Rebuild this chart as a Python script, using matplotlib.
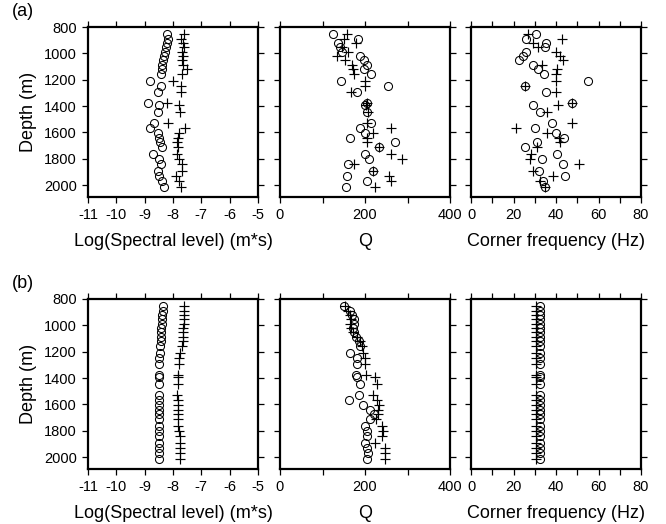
import matplotlib
matplotlib.use("Agg")
import matplotlib.pyplot as plt
from matplotlib.ticker import MultipleLocator

plt.rcParams["font.family"] = ["Liberation Sans", "DejaVu Sans"]
plt.rcParams["axes.unicode_minus"] = False

# depths of the stations (m), shared by every panel
depth = [855, 890, 925, 955, 986, 1019, 1052, 1088, 1121, 1159, 1213, 1248, 1294,
         1373, 1393, 1444, 1525, 1568, 1604, 1642, 1673, 1714, 1764, 1800, 1841,
         1889, 1928, 1968, 2016]

# (a) observed values: circles / pluses
spec_a_o = [-8.20, -8.19, -8.22, -8.25, -8.28, -8.31, -8.34, -8.38, -8.40, -8.43,
            -8.81, -8.43, -8.52, -8.87, -8.48, -8.52, -8.66, -8.81, -8.52, -8.49,
            -8.46, -8.40, -8.71, -8.48, -8.44, -8.52, -8.48, -8.40, -8.32]
spec_a_p = [-7.60, -7.70, -7.66, -7.62, -7.68, -7.64, -7.68, -7.66, -7.50, -7.68,
            -8.01, -7.70, -7.73, -8.22, -7.80, -7.75, -8.18, -7.58, -7.78, -7.81,
            -7.85, -7.84, -7.85, -7.78, -7.69, -7.67, -7.90, -7.80, -7.72]
q_a_o = [125, 184, 136, 140, 146, 189, 197, 204, 197, 213, 144, 254, 181,
         205, 201, 204, 213, 189, 200, 164, 270, 234, 200, 209, 159, 219, 158, 205, 155]
q_a_p = [158, 150, 178, 146, 160, 134, 154, 170, 172, 174, 201, 200, 167,
         205, 203, 206, 205, 260, 218, 205, 205, 234, 262, 286, 175, 219, 256, 260, 223]
fc_a_o = [30.7, 26.0, 35.4, 35.0, 26.0, 24.5, 22.5, 29.0, 31.5, 34.3, 55.2, 25.6, 35.2,
          47.4, 29.4, 32.5, 38.3, 30.2, 39.8, 43.8, 31.1, 25.5, 40.5, 33.4, 43.3,
          31.8, 44.4, 33.7, 34.6]
fc_a_p = [26.8, 42.9, 29.1, 31.5, 39.8, 42.0, 43.2, 33.5, 40.4, 40.0, 39.8, 25.6, 39.8,
          47.4, 40.9, 35.9, 47.6, 21.1, 35.7, 41.3, 42.1, 31.2, 28.4, 27.6, 50.7,
          29.2, 38.8, 32.3, 34.6]

# (b) values
spec_b_o = [-8.36, -8.37, -8.38, -8.39, -8.40, -8.41, -8.42, -8.43, -8.44, -8.45,
            -8.47, -8.48, -8.50, -8.50, -8.50, -8.50, -8.50, -8.50, -8.50, -8.50,
            -8.50, -8.50, -8.50, -8.50, -8.50, -8.50, -8.50, -8.50, -8.50]
spec_b_p = [-7.60, -7.60, -7.61, -7.61, -7.62, -7.63, -7.64, -7.65, -7.66, -7.67,
            -7.77, -7.78, -7.78, -7.82, -7.82, -7.82, -7.85, -7.84, -7.83, -7.83,
            -7.82, -7.82, -7.81, -7.79, -7.77, -7.76, -7.76, -7.75, -7.75]
q_b_o = [150, 164, 170, 174, 175, 172, 174, 178, 185, 189, 165, 180, 180,
         178, 181, 188, 185, 163, 196, 211, 221, 211, 201, 204, 205, 201, 204, 207, 204]
q_b_p = [152, 159, 164, 166, 164, 166, 172, 181, 189, 193, 196, 199, 200,
         203, 224, 228, 218, 229, 233, 230, 230, 225, 240, 242, 241, 224, 246, 248, 246]
fc_b_o = [32.3, 32.3, 32.3, 32.3, 32.3, 32.3, 32.3, 32.3, 32.3, 32.3, 32.3, 32.3, 32.3,
          32.3, 32.3, 32.3, 32.3, 32.3, 32.3, 32.3, 32.3, 32.3, 32.3, 32.3, 32.3,
          32.3, 32.3, 32.3, 32.3]
fc_b_p = [30.8, 30.8, 30.8, 30.8, 30.8, 30.8, 30.8, 30.8, 30.8, 30.8, 30.8, 30.8, 30.8,
          30.8, 30.8, 30.8, 30.8, 30.8, 30.8, 30.8, 30.8, 30.8, 30.8, 30.8, 30.8,
          30.8, 30.8, 30.8, 30.8]

xlabels = ["Log(Spectral level) (m*s)", "Q", "Corner frequency (Hz)"]
xlims = [(-11, -5), (0, 400), (0, 80)]
xmajor = [1, 200, 20]
xminor = [1, 100, 10]


def panel(fig, rect, xo, xp, col, show_ylabel):
    ax = fig.add_axes(rect)
    ax.plot(xo, depth, "o", ms=5.8, mfc="none", mec="black", mew=0.75, ls="none")
    ax.plot(xp, depth, "+", ms=6.5, color="black", mew=0.85, ls="none")
    ax.set_xlim(*xlims[col])
    ax.set_ylim(2090, 800)
    ax.xaxis.set_major_locator(MultipleLocator(xmajor[col]))
    ax.xaxis.set_minor_locator(MultipleLocator(xminor[col]))
    ax.yaxis.set_major_locator(MultipleLocator(200))
    ax.tick_params(which="both", direction="out", length=4, width=0.9,
                   top=True, right=True, labelsize=10.5, pad=4)
    if not show_ylabel:
        ax.tick_params(axis="y", labelleft=False)
    else:
        ax.set_ylabel("Depth (m)", fontsize=13, labelpad=5)
    ax.set_xlabel(xlabels[col], fontsize=13, labelpad=7.5)
    for s in ax.spines.values():
        s.set_linewidth(1.6)
    return ax


fig = plt.figure(figsize=(6.66, 5.24), dpi=100)
lefts = [88 / 666, 280 / 666, 471 / 666]
w = 170 / 666
rows = [(327 / 524, "(a)", [spec_a_o, q_a_o, fc_a_o], [spec_a_p, q_a_p, fc_a_p]),
        (55 / 524, "(b)", [spec_b_o, q_b_o, fc_b_o], [spec_b_p, q_b_p, fc_b_p])]
for bottom, tag, circ, plus in rows:
    for col in range(3):
        panel(fig, [lefts[col], bottom, w, 170 / 524], circ[col], plus[col], col, col == 0)
    fig.text(12 / 666, bottom + 170 / 524 + 16 / 524, tag, fontsize=13, va="center", ha="left")

fig.savefig("out.png", dpi=100)
